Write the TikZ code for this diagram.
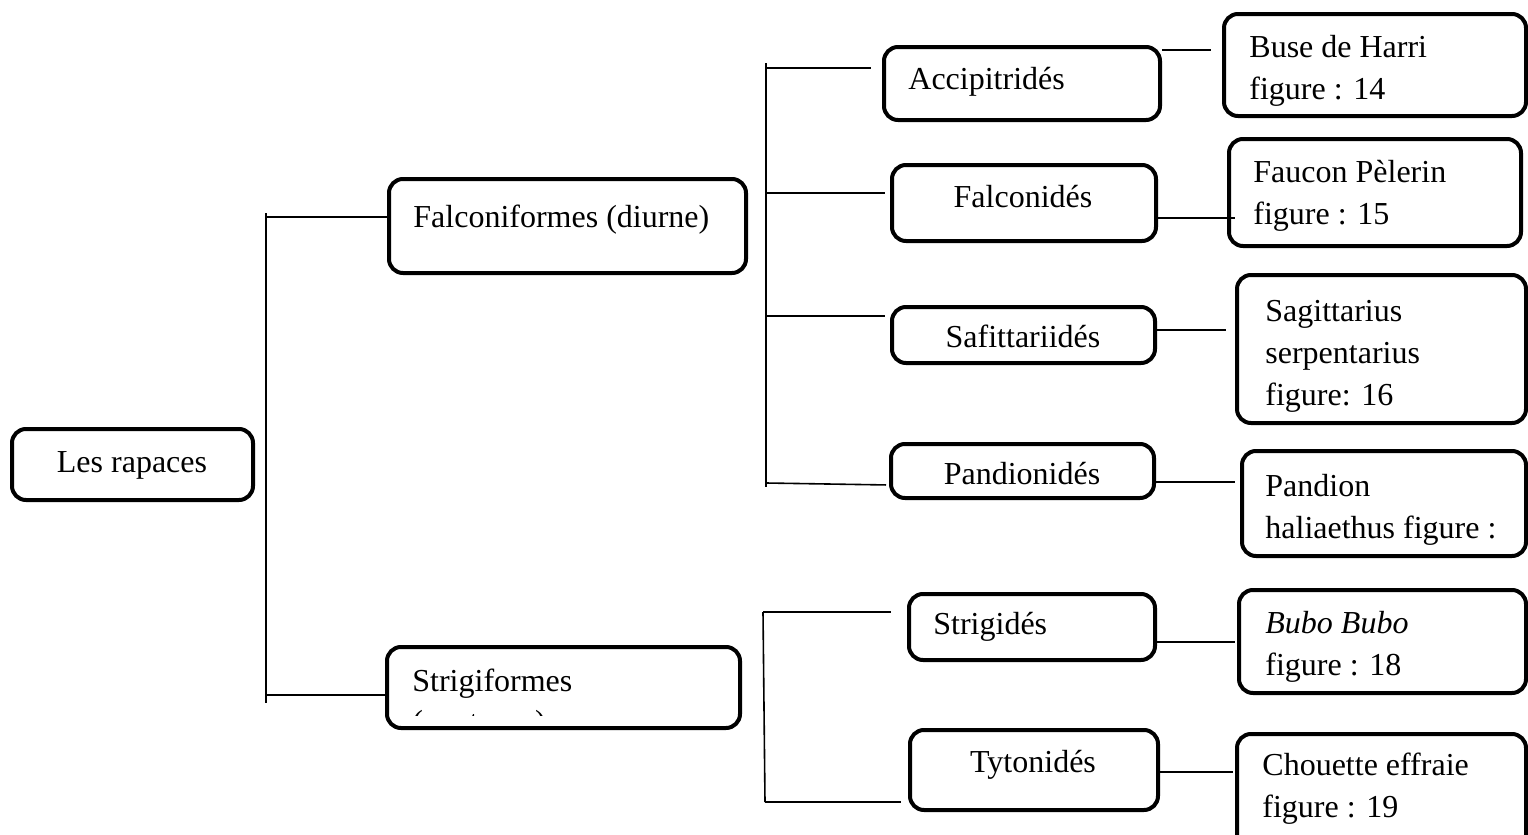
\documentclass[tikz,border=0pt]{standalone}
\usepackage{fontspec}
\setmainfont{Liberation Serif}
\usetikzlibrary{fit,calc}
\newcommand{\mylines}[1]{\begin{tabular}[t]{@{}l@{}}#1\end{tabular}}
\begin{document}
\begin{tikzpicture}[x=0.5pt,y=-0.5pt,
  box/.style={draw, line width=2pt, rounded corners=7pt, inner sep=0pt},
  txt/.style={inner sep=0pt, font=\fontsize{16pt}{21pt}\selectfont},
  conn/.style={line width=0.8pt}]
\useasboundingbox (0,0) rectangle (1528,835);
\clip (0,0) rectangle (1528,835);
% boxes
\node[box, fit={(12,429) (253,500)}] (rap) {};
\node[box, fit={(389,179) (746,273)}] (falc) {};
\node[box, fit={(387,647) (740,728)}] (strig) {};
\node[box, fit={(884,47) (1160,120)}] (acc) {};
\node[box, fit={(892,165) (1156,241)}] (falcd) {};
\node[box, fit={(892,307) (1155,363)}] (sag) {};
\node[box, fit={(891,444) (1154,498)}] (pand) {};
\node[box, fit={(909,594) (1155,660)}] (strd) {};
\node[box, fit={(910,730) (1158,810)}] (tyto) {};
\node[box, fit={(1224,14) (1526,116)}] (buse) {};
\node[box, fit={(1229,139) (1521,246)}] (faucon) {};
\node[box, fit={(1237,275) (1526,423)}] (sagi) {};
\node[box, fit={(1242,451) (1526,556)}] (pandion) {};
\node[box, fit={(1239,590) (1526,693)}] (bubo) {};
\node[box, fit={(1237,734) (1526,850)}] (chou) {};
% texts
\node[txt, anchor=base] (trap) at (132,472) {Les rapaces};
\node[txt, anchor=base west] (tfalc) at (413,227) {Falconiformes (diurne)};
\node[txt, anchor=base west] (tstrig) at (412,691) {Strigiformes};
\begin{scope}
  \clip (380,600) rectangle (760,715.5);
  \node[txt, anchor=base west] (tnoct) at (412,732) {(nocturne)};
\end{scope}
\node[txt, anchor=base west] (tacc) at (908,89) {Accipitridés};
\node[txt, anchor=base] (tfalcd) at (1023,207) {Falconidés};
\node[txt, anchor=base] (tsag) at (1023,347) {Safittariidés};
\node[txt, anchor=base] (tpand) at (1022,484) {Pandionidés};
\node[txt, anchor=base west] (tstrd) at (933,634) {Strigidés};
\node[txt, anchor=base] (ttyto) at (1033,772) {Tytonidés};
\node[txt, anchor=base west] (tbuse) at (1249,57) {\mylines{Buse de Harri\\figure : 14}};
\node[txt, anchor=base west] (tfaucon) at (1253,182) {\mylines{Faucon Pèlerin\\figure : 15}};
\node[txt, anchor=base west] (tsagi) at (1265,321) {\mylines{Sagittarius\\serpentarius\\figure: 16}};
\node[txt, anchor=base west] (tpandion) at (1265,496) {\mylines{Pandion\\haliaethus figure :}};
\node[txt, anchor=base west] (tbubo) at (1265,633) {\mylines{\textit{Bubo Bubo}\\figure : 18}};
\node[txt, anchor=base west] (tchou) at (1262,775) {\mylines{Chouette effraie\\figure : 19}};
% root bar
\coordinate (rb1) at (266,213);
\coordinate (rb2) at (266,703);
\coordinate (r1) at (266,217);
\coordinate (r2) at (266,695);
\draw[conn] (rb1) -- (rb2);
\draw[conn] (r1) -- (r1 -| falc.west);
\draw[conn] (r2) -- (r2 -| strig.west);
% falconiformes bar
\coordinate (fb1) at (766,63);
\coordinate (fb2) at (766,487);
\coordinate (f1) at (766,68);
\coordinate (f2) at (766,193);
\coordinate (f3) at (766,316);
\coordinate (f4) at (766,483);
\draw[conn] (fb1) -- (fb2);
\draw[conn, shorten >=5.5pt] (f1) -- (f1 -| acc.west);
\draw[conn, shorten >=2.5pt] (f2) -- (f2 -| falcd.west);
\draw[conn, shorten >=2.5pt] (f3) -- (f3 -| sag.west);
\draw[conn, shorten >=1.5pt] (f4) -- ($(f4 -| pand.west)+(0,2)$);
% strigiformes bar
\coordinate (s1) at (763,612);
\coordinate (s2) at (765,802);
\draw[conn] (s1) -- (s2);
\draw[conn, shorten >=8pt] (s1) -- (s1 -| strd.west);
\draw[conn, shorten >=3.5pt] (s2) -- (s2 -| tyto.west);
% family to species
\coordinate (y1) at (0,50);
\coordinate (y2) at (0,218);
\coordinate (y3) at (0,330);
\coordinate (y4) at (0,482);
\coordinate (y5) at (0,642);
\coordinate (y6) at (0,772);
\draw[conn, shorten >=5.5pt] (y1 -| acc.east) -- (y1 -| buse.west);
\draw[conn, shorten >=-4pt] (y2 -| falcd.east) -- (y2 -| faucon.west);
\draw[conn, shorten >=4.5pt] (y3 -| sag.east) -- (y3 -| sagi.west);
\draw[conn, shorten >=2.5pt] (y4 -| pand.east) -- (y4 -| pandion.west);
\draw[conn, shorten >=1pt] (y5 -| strd.east) -- (y5 -| bubo.west);
\draw[conn, shorten >=1pt] (y6 -| tyto.east) -- (y6 -| chou.west);
\end{tikzpicture}
\end{document}
